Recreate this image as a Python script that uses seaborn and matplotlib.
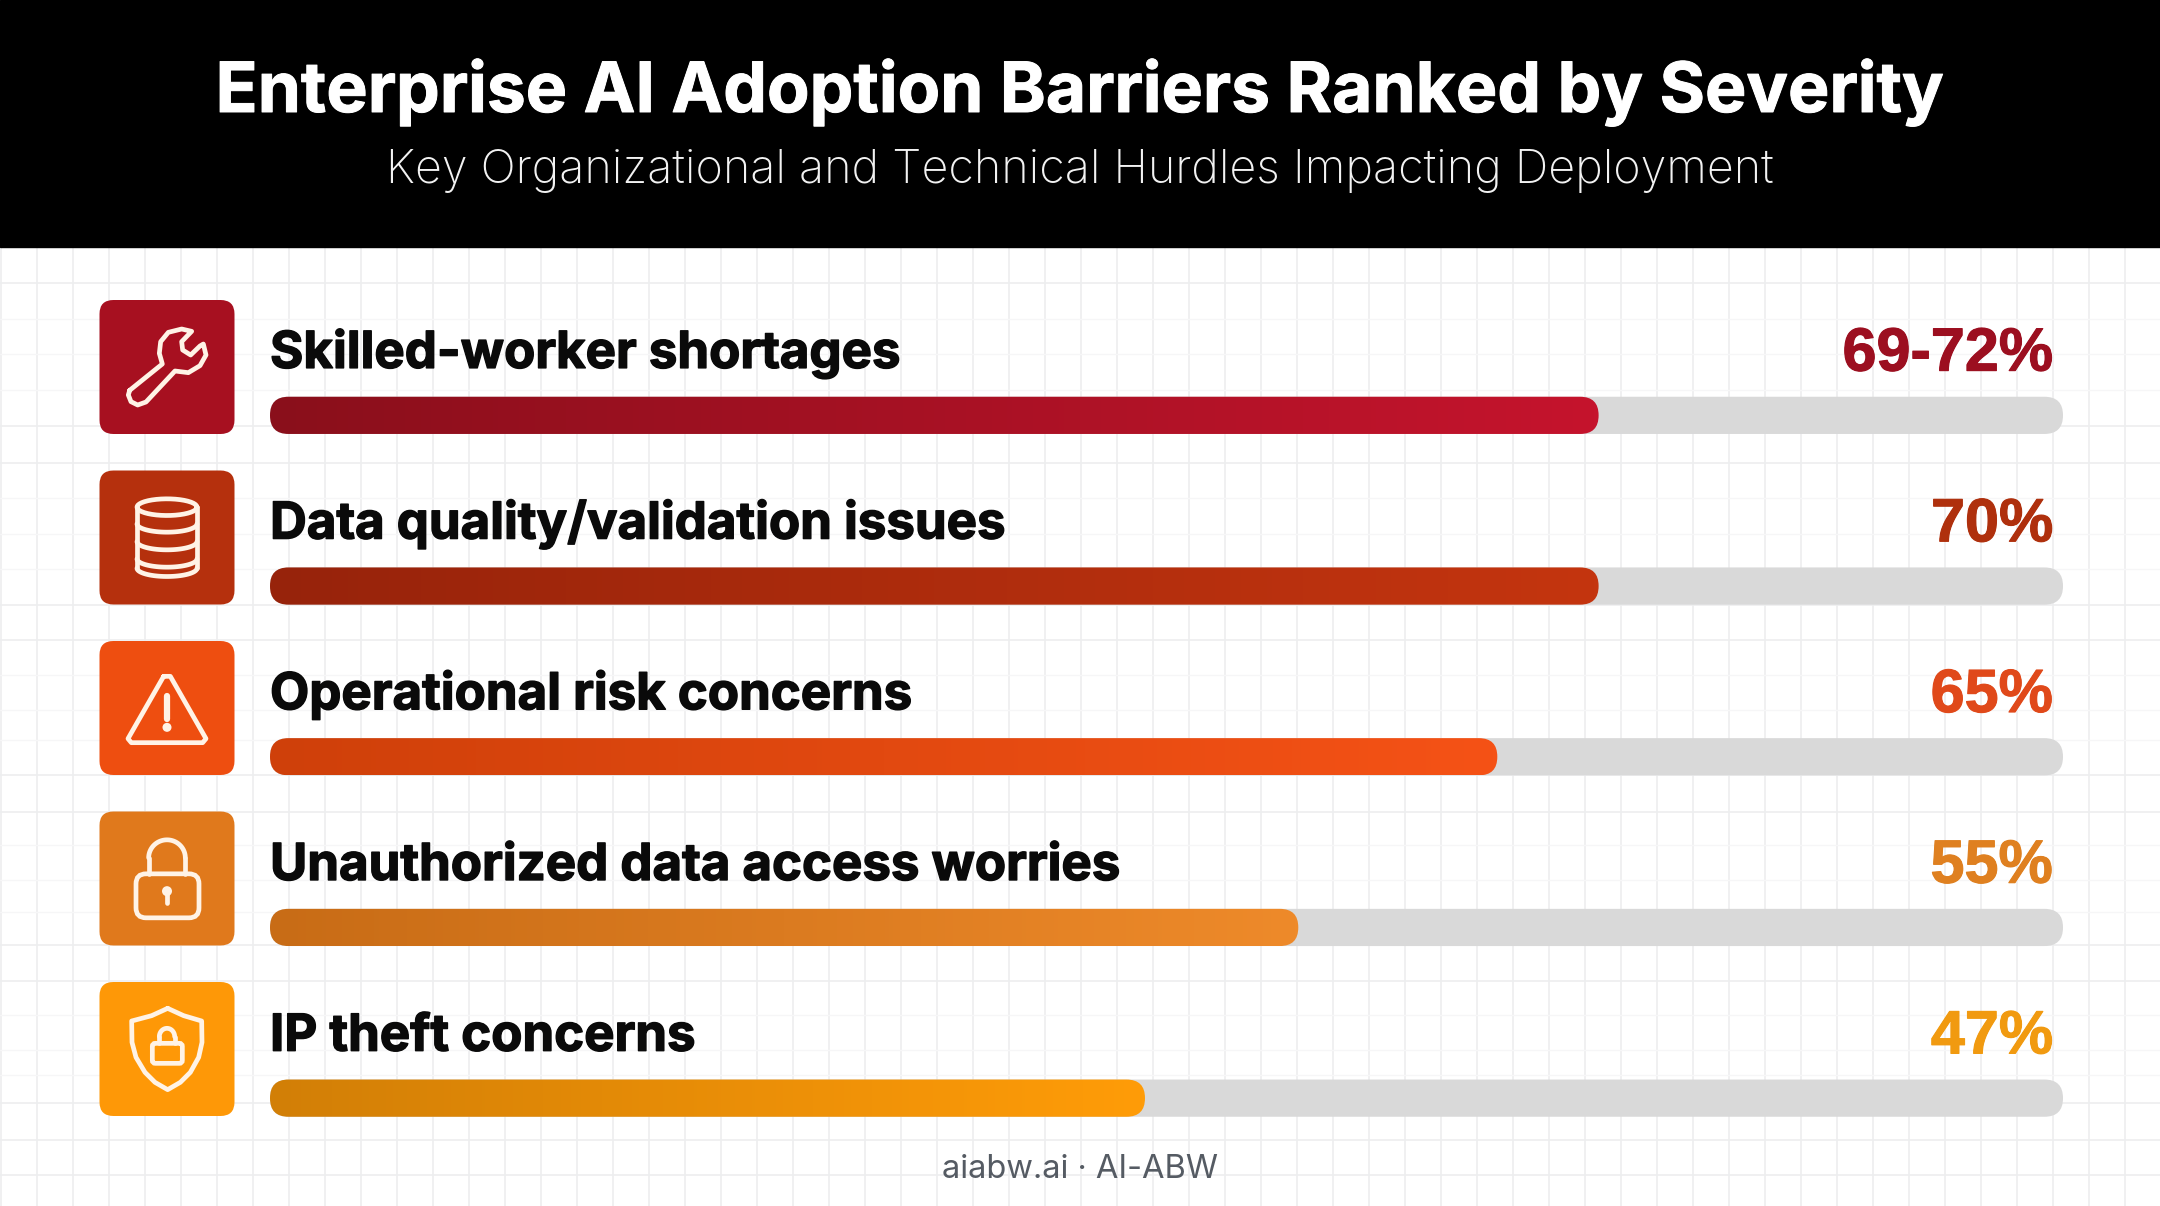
import numpy as np
import pandas as pd
import seaborn as sns
import matplotlib.pyplot as plt
import matplotlib.patheffects as pe
from matplotlib.colors import LinearSegmentedColormap
from matplotlib.patches import FancyBboxPatch, Rectangle, Circle, PathPatch
from matplotlib.path import Path

# data
barriers = ['Skilled-worker shortages', 'Data quality/validation issues', 'Operational risk concerns',
            'Unauthorized data access worries', 'IP theft concerns']
value_labels = ['69-72%', '70%', '65%', '55%', '47%']
# drawn bar length in % of the grey track (the picture does not quite follow the labels)
fill_pct = [74.1, 74.1, 68.45, 57.35, 48.8]
track_pct = [100, 100, 100, 100, 100]

left_colors = ['#8A0F1B', '#97230B', '#CF400A', '#C86C16', '#D27F06']
right_colors = ['#C5142D', '#C4350F', '#F55216', '#EE8A2A', '#FF9C08']
icon_colors = ['#A71020', '#B5300D', '#EE4E10', '#E0791C', '#FE9807']
value_colors = ['#9C0F20', '#AF300D', '#E0491A', '#DF8020', '#F19A10']

title = 'Enterprise AI Adoption Barriers Ranked by Severity'
subtitle = 'Key Organizational and Technical Hurdles Impacting Deployment'
footer = 'aiabw.ai · AI-ABW'

W, H = 2160, 1206
sns.set_theme(style='white')
plt.rcParams['font.family'] = ['Inter', 'DejaVu Sans']

fig = plt.figure(figsize=(W / 100, H / 100), dpi=100, facecolor='white')

# background axes in pixel coordinates: header, grid paper, icons
bg = fig.add_axes([0, 0, 1, 1], zorder=0)
bg.set_xlim(0, W)
bg.set_ylim(H, 0)
bg.set_facecolor('white')
bg.set_xticks(np.arange(1, W, 36))
bg.set_yticks([283, 426, 463, 605, 640, 775, 812, 945, 981, 1103, 1140, 1175])
bg.set_yticks([319, 354, 390, 498, 534, 569, 675, 710, 740, 845, 880, 912, 1015, 1050, 1075], minor=True)
bg.grid(True, which='major', color='#EDEEEF', lw=1.2)
bg.grid(True, which='minor', axis='y', color='#F6F6F7', lw=1.0)
bg.tick_params(which='both', length=0, labelbottom=False, labelleft=False)
sns.despine(ax=bg, left=True, bottom=True)
bg.set_axisbelow(True)

thick = [pe.withStroke(linewidth=0.7, foreground='white')]
bg.add_patch(Rectangle((0, 0), W, 247, color='black', zorder=3))
bg.text(W / 2, 92, title, color='white', fontsize=50, fontweight='bold', ha='center', va='center', zorder=4,
        path_effects=thick)
bg.text(W / 2, 171, subtitle, color='#F2F2F2', fontsize=33.6, fontweight='light', ha='center', va='center', zorder=4)
bg.text(W / 2, 1169, footer, color='#555B63', fontsize=23.5, ha='center', va='center', zorder=4)

# bars
bar_left, bar_right = 270, 2063
row_top, row_bottom = 330, 1183.5
ax = fig.add_axes([bar_left / W, (H - row_bottom) / H, (bar_right - bar_left) / W, (row_bottom - row_top) / H],
                  zorder=1)
ax.patch.set_alpha(0)
df = pd.DataFrame({'barrier': barriers, 'track': track_pct, 'fill': fill_pct})
sns.barplot(data=df, y='barrier', x='track', color='#D9D9D9', width=0.218, ax=ax)
sns.barplot(data=df, y='barrier', x='fill', color='#999999', width=0.218, ax=ax)
ax.set_xlim(0, 100)
ax.set_ylim(4.5, -0.5)
ax.axis('off')

# swap the square bars for pills, the fills get a gradient
px_x = (bar_right - bar_left) / 100
px_y = (row_bottom - row_top) / 5
radius_px = 18.5
rnd = radius_px / px_x
aspect = (radius_px / px_y) / rnd
patches = list(ax.patches)
for i, p in enumerate(patches):
    x, y, w, h = p.get_x(), p.get_y(), p.get_width(), p.get_height()
    p.set_visible(False)
    pill = FancyBboxPatch((x, y), w, h, boxstyle=f'round,pad=0,rounding_size={rnd}',
                          mutation_aspect=aspect, linewidth=0)
    if i < len(barriers):
        pill.set_facecolor('#D9D9D9')
        pill.set_zorder(2)
        ax.add_patch(pill)
    else:
        k = i - len(barriers)
        pill.set_facecolor('none')
        pill.set_zorder(3)
        ax.add_patch(pill)
        cmap = LinearSegmentedColormap.from_list('g', [left_colors[k], right_colors[k]])
        im = ax.imshow(np.linspace(0, 1, 256).reshape(1, -1), cmap=cmap, extent=(x, x + w, y + h, y),
                       aspect='auto', zorder=3)
        im.set_clip_path(pill)
ax.set_xlim(0, 100)
ax.set_ylim(4.5, -0.5)

label_thick = [pe.withStroke(linewidth=1.0, foreground='#0A0A0A')]
for i, (name, val) in enumerate(zip(barriers, value_labels)):
    ax.text(0, i - 0.278, name, color='#0A0A0A', fontsize=36.7, fontweight='bold', ha='left', va='baseline',
            path_effects=label_thick)
    ax.text(99.45, i - 0.262, val, color=value_colors[i], fontsize=44, fontweight='bold', ha='right', va='baseline',
            family='Liberation Sans', path_effects=[pe.withStroke(linewidth=0.8, foreground=value_colors[i])])


# icons, shapes given in 3x crop coordinates around the icon centre
line_col = '#FFF3E6'
LW = 3.4


def outline(pts, cx, cy, closed=True, lw=LW):
    pts = [(cx + a / 3, cy + b / 3) for a, b in pts]
    verts = pts + ([pts[0]] if closed else [])
    codes = [Path.MOVETO] + [Path.LINETO] * (len(verts) - 1)
    bg.add_patch(PathPatch(Path(verts, codes), fc='none', ec=line_col, lw=lw, joinstyle='round',
                           capstyle='round', zorder=6))


def rbox(x0, y0, x1, y1, cx, cy, r):
    bg.add_patch(FancyBboxPatch((cx + x0 / 3, cy + y0 / 3), (x1 - x0) / 3, (y1 - y0) / 3,
                                boxstyle=f'round,pad=0,rounding_size={r}', fc='none', ec=line_col, lw=LW, zorder=6))


def arc(cx, cy, x0, y0, rx, ry, t0, t1):
    t = np.radians(np.linspace(t0, t1, 40))
    bg.plot(cx + (x0 + rx * np.cos(t)) / 3, cy + (y0 + ry * np.sin(t)) / 3, color=line_col, lw=LW, zorder=6,
            solid_capstyle='round')


def wrench(cx, cy):
    outline([(-112, 70), (-14, -9), (-23, -41), (-19, -76), (4, -104), (44, -114), (74, -107), (44, -76),
             (47, -51), (71, -36), (99, -63), (109, -69), (117, -36), (99, -4), (64, 17), (24, 12),
             (-63, 105), (-88, 114), (-108, 104), (-116, 84)], cx, cy)


def database(cx, cy):
    arc(cx, cy, 0, -91, 90, 25, 0, 360)
    outline([(-90, -91), (-90, 92)], cx, cy, closed=False)
    outline([(90, -91), (90, 92)], cx, cy, closed=False)
    for yy in (-39, 14, 66, 92):
        arc(cx, cy, 0, yy - 2 if yy < 92 else 92, 90, 25, 0, 180)


def warning(cx, cy):
    outline([(-10, -95), (10, -95), (117, 92), (107, 104), (-107, 104), (-117, 92)], cx, cy)
    outline([(0, -36), (0, 32)], cx, cy, closed=False, lw=4.5)
    bg.add_patch(Circle((cx, cy + 58 / 3), 4.5, fc=line_col, ec='none', zorder=6))


def padlock(cx, cy):
    rbox(-93, -14, 96, 118, cx, cy, 10)
    arc(cx, cy, 0, -62, 55, 54, 180, 360)
    outline([(-55, -62), (-55, -14)], cx, cy, closed=False)
    outline([(55, -62), (55, -14)], cx, cy, closed=False)
    bg.add_patch(Circle((cx, cy + 38 / 3), 5, fc=line_col, ec='none', zorder=6))
    outline([(0, 42), (0, 74)], cx, cy, closed=False)


def shield(cx, cy):
    outline([(2, -122), (50, -100), (104, -84), (105, -20), (95, 25), (70, 70), (40, 100), (2, 122),
             (-36, 100), (-66, 70), (-93, 25), (-105, -20), (-106, -84), (-46, -100)], cx, cy)
    rbox(-44, -17, 46, 43, cx, cy, 3)
    arc(cx, cy, 0, -37, 23, 25, 180, 360)
    outline([(-23, -37), (-23, -17)], cx, cy, closed=False)
    outline([(23, -37), (23, -17)], cx, cy, closed=False)


icon_fns = [wrench, database, warning, padlock, shield]
icon_half = 67
for i, fn in enumerate(icon_fns):
    cy = 367 + i * 170.5
    bg.add_patch(FancyBboxPatch((99.5, cy - icon_half), 135, 2 * icon_half,
                                boxstyle='round,pad=0,rounding_size=14', fc=icon_colors[i],
                                ec='none', lw=0, zorder=5))
    fn(167, cy)

bg.set_xlim(0, W)
bg.set_ylim(H, 0)
plt.savefig('out.png', dpi=100)
